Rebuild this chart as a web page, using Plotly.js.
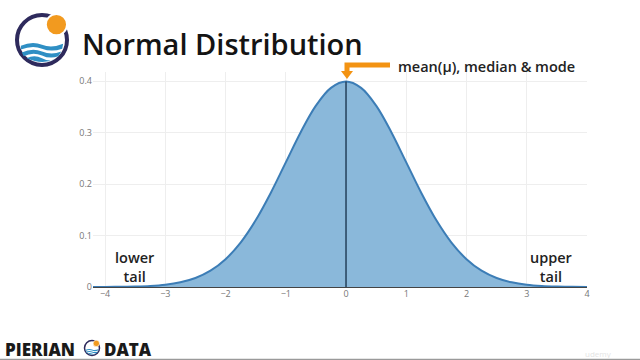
<!DOCTYPE html>
<html>
<head>
<meta charset="utf-8">
<script src="https://cdn.plot.ly/plotly-3.0.1.min.js"></script>
<style>html,body{margin:0;padding:0;background:#fff;}#chart{width:640px;height:360px;}</style>
</head>
<body>
<div id="chart"></div>
<script>
// Values
const xValues = [-4.2, -4, -3.75, -3.5, -3.25, -3, -2.75, -2.5, -2.25, -2, -1.75, -1.5, -1.25, -1, -0.75, -0.5, -0.25, 0,
                 0.25, 0.5, 0.75, 1, 1.25, 1.5, 1.75, 2, 2.25, 2.5, 2.75, 3, 3.25, 3.5, 3.75, 4];
const densityValues = [0.0001, 0.0001, 0.0004, 0.0009, 0.0020, 0.0044, 0.0091, 0.0175, 0.0317, 0.0540, 0.0863, 0.1295, 0.1826, 0.2420, 0.3011, 0.3521, 0.3867, 0.3989,
                       0.3867, 0.3521, 0.3011, 0.2420, 0.1826, 0.1295, 0.0863, 0.0540, 0.0317, 0.0175, 0.0091, 0.0044, 0.0020, 0.0009, 0.0004, 0.0001];
const meanX = [0, 0];
const meanY = [0, 0.3989];
const xTickVals = [-4, -3, -2, -1, 0, 1, 2, 3, 4];
const xTickText = ["\u22124", "\u22123", "\u22122", "\u22121", "0", "1", "2", "3", "4"];
const yTickVals = [0, 0.1, 0.2, 0.3, 0.4];
const yTickText = ["0", "0.1", "0.2", "0.3", "0.4"];

const L = 93, R = 587, T = 72, B = 287;
const W = R - L, H = B - T;
const px = p => (p - L) / W;
const py = p => (B - p) / H;

const curve = {
  x: xValues, y: densityValues, type: 'scatter', mode: 'lines',
  line: {color: '#3c7db6', width: 2, shape: 'spline'},
  fill: 'tozeroy', fillcolor: '#8ab8da', hoverinfo: 'skip'
};
const meanLine = {
  x: meanX, y: meanY, type: 'scatter', mode: 'lines',
  line: {color: '#24405a', width: 1.5}, hoverinfo: 'skip'
};

function circ(cx, cy, r, opts) {
  return Object.assign({type: 'circle', xref: 'paper', yref: 'paper',
    x0: px(cx - r), x1: px(cx + r), y0: py(cy + r), y1: py(cy - r), layer: 'above'}, opts);
}
function path(points, opts) {
  return Object.assign({type: 'path', xref: 'paper', yref: 'paper', layer: 'above', path: points}, opts);
}
function P(x, y) { return px(x) + ',' + py(y); }

function logo(cx, cy, r, sw) {
  const s = r / 26;
  const shapes = [];
  shapes.push(circ(cx, cy, r, {line: {color: '#2e2a5c', width: sw}, fillcolor: 'rgba(0,0,0,0)'}));
  const w1 = 'M' + P(cx - 22*s, cy + 6*s) + ' Q' + P(cx - 10*s, cy + 1*s) + ' ' + P(cx, cy + 5*s) +
             ' Q' + P(cx + 10*s, cy + 9*s) + ' ' + P(cx + 22*s, cy + 4*s) +
             ' L' + P(cx + 21*s, cy + 9*s) + ' Q' + P(cx + 10*s, cy + 13*s) + ' ' + P(cx, cy + 9*s) +
             ' Q' + P(cx - 10*s, cy + 5*s) + ' ' + P(cx - 22*s, cy + 10*s) + ' Z';
  const w2 = 'M' + P(cx - 21*s, cy + 13*s) + ' Q' + P(cx - 10*s, cy + 8*s) + ' ' + P(cx, cy + 12*s) +
             ' Q' + P(cx + 10*s, cy + 16*s) + ' ' + P(cx + 20*s, cy + 12*s) +
             ' L' + P(cx + 17*s, cy + 17*s) + ' Q' + P(cx + 8*s, cy + 20*s) + ' ' + P(cx, cy + 16*s) +
             ' Q' + P(cx - 10*s, cy + 12*s) + ' ' + P(cx - 19*s, cy + 17*s) + ' Z';
  const w3 = 'M' + P(cx - 16*s, cy + 19*s) + ' Q' + P(cx - 8*s, cy + 15*s) + ' ' + P(cx, cy + 19*s) +
             ' Q' + P(cx + 8*s, cy + 23*s) + ' ' + P(cx + 13*s, cy + 20*s) +
             ' Q' + P(cx, cy + 26*s) + ' ' + P(cx - 16*s, cy + 19*s) + ' Z';
  [w1, w2, w3].forEach(d => shapes.push(path(d, {fillcolor: '#2f8fc4', line: {width: 0}})));
  shapes.push(circ(cx + 15*s, cy - 16*s, 11*s, {fillcolor: '#f29a1f', line: {color: '#ffffff', width: 2*s}}));
  return shapes;
}

const shapes = [].concat(
  logo(42, 40, 25, 4),
  logo(92, 348, 7.5, 1.5),
  [
    path('M' + P(390, 65) + ' L' + P(347, 65) + ' L' + P(347, 72), {line: {color: '#f39312', width: 5}}),
    path('M' + P(341, 71) + ' L' + P(353, 71) + ' L' + P(347, 79) + ' Z', {fillcolor: '#f39312', line: {width: 0}}),
    {type: 'line', xref: 'paper', yref: 'paper', x0: px(0), x1: px(640), y0: py(359.5), y1: py(359.5),
     line: {color: '#9a9a9a', width: 1.5}, layer: 'above'}
  ]
);

const annotations = [
  {text: 'Normal Distribution', xref: 'paper', yref: 'paper', x: px(80), y: py(44), xanchor: 'left', yanchor: 'middle',
   showarrow: false, font: {family: 'Open Sans', size: 29, weight: 600, color: '#141414'}},
  {text: 'mean(\u03bc), median &amp; mode', xref: 'paper', yref: 'paper', x: px(396), y: py(66), xanchor: 'left', yanchor: 'middle',
   showarrow: false, font: {family: 'Open Sans', size: 14.5, weight: 600, color: '#222'}},
  {text: 'lower<br>tail', xref: 'paper', yref: 'paper', x: px(134), y: py(267), xanchor: 'center', yanchor: 'middle',
   showarrow: false, font: {family: 'Open Sans', size: 14.5, weight: 600, color: '#222'}},
  {text: 'upper<br>tail', xref: 'paper', yref: 'paper', x: px(551), y: py(267), xanchor: 'center', yanchor: 'middle',
   showarrow: false, font: {family: 'Open Sans', size: 14.5, weight: 600, color: '#222'}},
  {text: 'PIERIAN', xref: 'paper', yref: 'paper', x: px(3), y: py(349), xanchor: 'left', yanchor: 'middle',
   showarrow: false, font: {family: 'Open Sans', size: 17, weight: 800, color: '#1a1a1a'}},
  {text: 'DATA', xref: 'paper', yref: 'paper', x: px(102), y: py(349), xanchor: 'left', yanchor: 'middle',
   showarrow: false, font: {family: 'Open Sans', size: 17, weight: 800, color: '#1a1a1a'}},
  {text: 'udemy', xref: 'paper', yref: 'paper', x: px(598), y: py(353), xanchor: 'center', yanchor: 'middle',
   showarrow: false, font: {family: 'Open Sans', size: 8, color: '#e4e4e4'}}
];

const layout = {
  width: 640, height: 360, autosize: false,
  margin: {l: L, r: 640 - R, t: T, b: 360 - B, pad: 0},
  paper_bgcolor: '#ffffff', plot_bgcolor: '#ffffff',
  showlegend: false,
  xaxis: {range: [-4.2, 4], tickvals: xTickVals, ticktext: xTickText, showgrid: true, gridcolor: '#eeeeee',
          zeroline: false, showline: false, ticks: '', tickfont: {family: 'Open Sans', size: 9, color: '#777'}, fixedrange: true},
  yaxis: {range: [0, 0.4175], tickvals: yTickVals, ticktext: yTickText, showgrid: true, gridcolor: '#eeeeee',
          zeroline: true, zerolinecolor: '#444', zerolinewidth: 1.5, showline: false, ticks: '',
          tickfont: {family: 'Open Sans', size: 9, color: '#777'}, fixedrange: true},
  shapes: shapes,
  annotations: annotations
};

Plotly.newPlot('chart', [curve, meanLine], layout, {staticPlot: true, displayModeBar: false});
</script>
</body>
</html>
